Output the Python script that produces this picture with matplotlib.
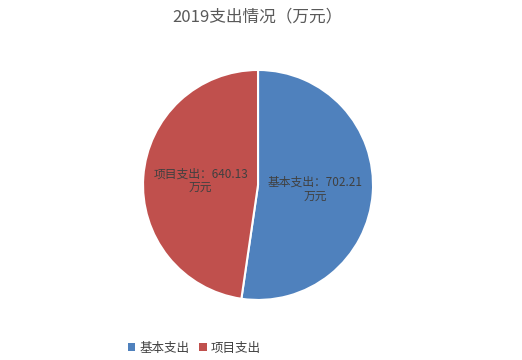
import matplotlib.pyplot as plt
from matplotlib.patches import Patch

plt.rcParams['font.family'] = ['Noto Sans CJK SC', 'DejaVu Sans']

names = ["基本支出", "项目支出"]
values = [702.21, 640.13]
colors = ["#4F81BD", "#C0504D"]

fig = plt.figure(figsize=(5.22, 3.6), dpi=100)
ax = fig.add_axes([0.274, 0.1667, 0.4406, 0.639])

labels = [f"{n}：{v:.2f}\n万元" for n, v in zip(names, values)]
wedges, texts = ax.pie(values, colors=colors, startangle=90, counterclock=False,
                       labels=labels, labeldistance=0.5,
                       wedgeprops=dict(edgecolor="white", linewidth=1.5),
                       textprops=dict(fontsize=8.5, color="#404040", ha="center",
                                      va="center", linespacing=1.05))
for t in texts:
    t.set_horizontalalignment("center")
    t.set_multialignment("center")
ax.set_xlim(-1.0, 1.0)
ax.set_ylim(-1.0, 1.0)
ax.set_aspect("equal")

fig.text(0.494, 0.953, "2019支出情况（万元）", ha="center", va="center",
         fontsize=12, color="#595959")

handles = [Patch(facecolor=c, label=n) for c, n in zip(colors, names)]
fig.legend(handles=handles, loc="center", bbox_to_anchor=(0.372, 0.033), ncol=2,
           frameon=False, fontsize=9, handlelength=0.6, handleheight=0.6,
           handletextpad=0.3, columnspacing=0.8, labelcolor="#404040")

fig.savefig("out.png", dpi=100)
